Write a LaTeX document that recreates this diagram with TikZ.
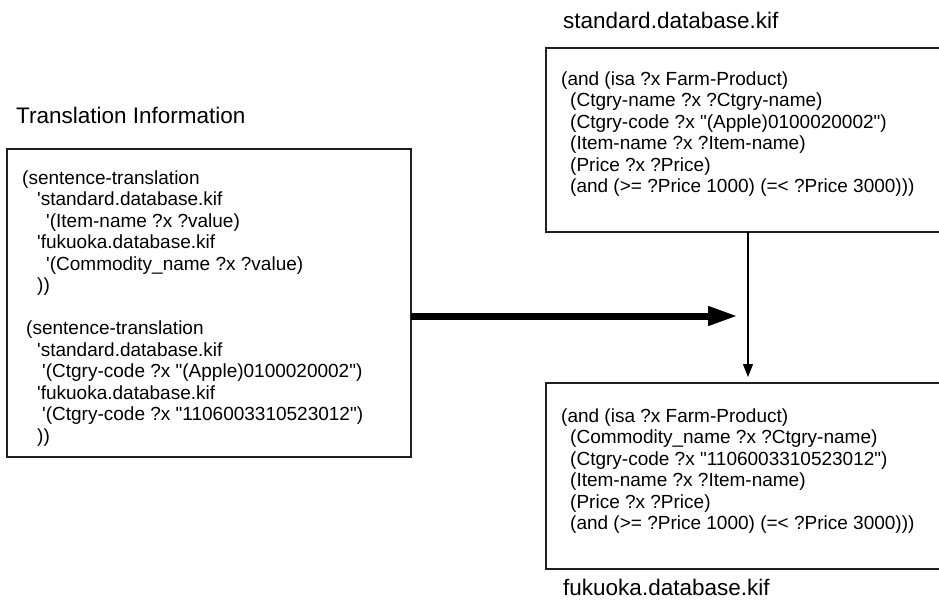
\documentclass[tikz,border=0pt]{standalone}
\usepackage{fontspec}
\setmainfont{Liberation Sans}
\usetikzlibrary{arrows.meta}
\newcommand{\sq}{\textquotesingle}
\newcommand{\dq}{\textquotedbl}
\begin{document}
\begin{tikzpicture}[x=1pt,y=-1pt,
  box/.style={draw=black!88, line width=1.5pt, rectangle, inner sep=0pt, outer sep=0pt, anchor=north west},
  code/.style={anchor=north west, inner sep=0pt, align=left, font=\fontsize{19}{21.5}\selectfont},
  rcode/.style={code, font=\fontsize{19}{21.5}\selectfont},
  lbl/.style={anchor=base west, inner sep=0pt, font=\fontsize{22.5}{26}\selectfont},
  bigarrow/.style={line width=7pt, -{Triangle[length=30pt,width=18pt]}},
  thinarrow/.style={line width=1.3pt, -{Triangle[length=13pt,width=10pt]}, shorten >=6pt}]
\useasboundingbox (0,0) rectangle (939,604);

% boxes
\node[box, minimum width=404pt, minimum height=308pt] (trans) at (7,149) {};
\node[box, minimum width=414pt, minimum height=184pt] (std) at (546,48) {};
\node[box, minimum width=414pt, minimum height=186pt] (fuk) at (546,383) {};

% labels
\node[lbl] (lstd) at (563,29) {standard.database.kif};
\node[lbl] (ltrans) at (16,124) {Translation Information};
\node[lbl] (lfuk) at (563,595) {fukuoka.database.kif};

% left text
\node[code] (ttext) at (22,169) {\rule{0pt}{15pt}(sentence-translation\\
\hspace*{15pt}\sq standard.database.kif\\
\hspace*{24pt}\sq(Item-name ?x ?value)\\
\hspace*{15pt}\sq fukuoka.database.kif\\
\hspace*{24pt}\sq(Commodity\_name ?x ?value)\\
\hspace*{15pt}))\\[21.5pt]
\hspace*{4pt}(sentence-translation\\
\hspace*{15pt}\sq standard.database.kif\\
\hspace*{20pt}\sq(Ctgry-code ?x \dq(Apple)0100020002\dq)\\
\hspace*{15pt}\sq fukuoka.database.kif\\
\hspace*{20pt}\sq(Ctgry-code ?x \dq 1106003310523012\dq)\\
\hspace*{15pt}))};

% top right text
\node[rcode] (stext) at (561,70) {\rule{0pt}{15pt}(and (isa ?x Farm-Product)\\
\hspace*{9pt}(Ctgry-name ?x ?Ctgry-name)\\
\hspace*{9pt}(Ctgry-code ?x \dq(Apple)0100020002\dq)\\
\hspace*{9pt}(Item-name ?x ?Item-name)\\
\hspace*{9pt}(Price ?x ?Price)\\
\hspace*{9pt}(and (>= ?Price 1000) (=< ?Price 3000)))};

% bottom right text
\node[rcode] (ftext) at (561,407) {\rule{0pt}{15pt}(and (isa ?x Farm-Product)\\
\hspace*{9pt}(Commodity\_name ?x ?Ctgry-name)\\
\hspace*{9pt}(Ctgry-code ?x \dq 1106003310523012\dq)\\
\hspace*{9pt}(Item-name ?x ?Item-name)\\
\hspace*{9pt}(Price ?x ?Price)\\
\hspace*{9pt}(and (>= ?Price 1000) (=< ?Price 3000)))};

% connectors
\coordinate (tip) at (738,316);
\coordinate (mid) at (748,0);
\draw[bigarrow] (trans.east |- tip) -- (tip);
\draw[thinarrow] (std.south -| mid) -- (fuk.north -| mid);
\end{tikzpicture}
\end{document}
